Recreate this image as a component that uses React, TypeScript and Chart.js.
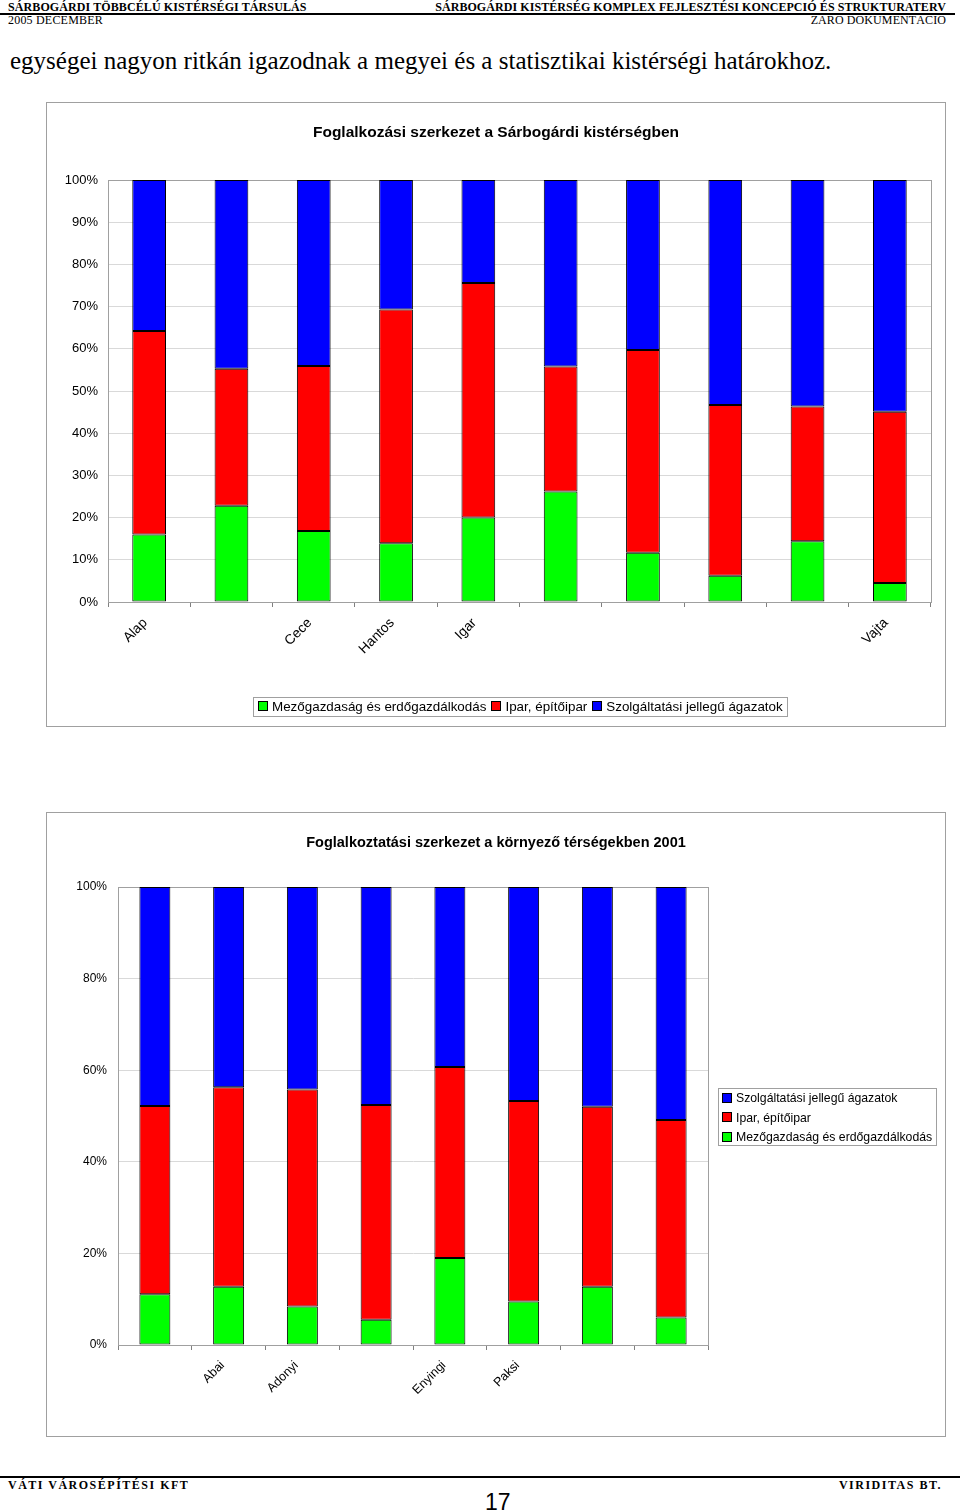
import React, { useEffect, useRef } from "react";
import { Chart, registerables } from "chart.js";

Chart.register(...registerables);

// ---------- Data ----------
const seriesNames = [
  "Mezőgazdaság és erdőgazdálkodás",
  "Ipar, építőipar",
  "Szolgáltatási jellegű ágazatok",
];
const seriesColors = ["#00FF00", "#FF0000", "#0000FF"];

const chart1Title = "Foglalkozási szerkezet a Sárbogárdi kistérségben";
const settlements = ["Alap", "Alsószentiván", "Cece", "Hantos", "Igar", "Mezőszilas", "Nagylók", "Sárbogárd", "Sáregres", "Vajta"];
const settlementTickLabels = ["Alap", "", "Cece", "Hantos", "Igar", "", "", "", "", "Vajta"];
const agri1 = [16.0, 22.8, 16.8, 13.9, 20.0, 26.2, 11.7, 6.2, 14.4, 4.5];
const ind1 = [48.2, 32.5, 39.1, 55.4, 55.6, 29.6, 48.0, 40.5, 31.9, 40.6];
const serv1 = [35.8, 44.7, 44.1, 30.7, 24.4, 44.2, 40.3, 53.3, 53.7, 54.9];
const yTicks1Step = 10;

const chart2Title = "Foglalkoztatási szerkezet a környező térségekben 2001";
const regions = ["Sárbogárdi", "Abai", "Adonyi", "Dunaújvárosi", "Enyingi", "Paksi", "Tamási", "Székesfehérvári"];
const regionTickLabels = ["", "Abai", "Adonyi", "", "Enyingi", "Paksi", "", ""];
const agri2 = [11.1, 12.7, 8.4, 5.5, 19.0, 9.5, 12.7, 6.0];
const ind2 = [41.1, 43.6, 47.4, 46.9, 41.7, 43.8, 39.3, 43.1];
const serv2 = [47.8, 43.7, 44.2, 47.6, 39.3, 46.7, 48.0, 50.9];
const yTicks2Step = 20;

const SANS = 'Arial, "Liberation Sans", sans-serif';
const SERIF = '"Times New Roman", "Liberation Serif", serif';

const framePlugin = {
  id: "frame",
  beforeDatasetsDraw(chart: any) {
    const { ctx, chartArea: a } = chart;
    ctx.save();
    ctx.strokeStyle = "#a0a0a0";
    ctx.lineWidth = 1;
    ctx.strokeRect(Math.round(a.left) + 0.5, Math.round(a.top) + 0.5, Math.round(a.right - a.left), Math.round(a.bottom - a.top));
    ctx.restore();
  },
};

type StackProps = {
  title: string;
  titleSize: number;
  titlePadTop: number;
  titlePadBottom: number;
  labels: string[];
  tickLabels: string[];
  agri: number[];
  ind: number[];
  serv: number[];
  step: number;
  fontSize: number;
  xFontSize: number;
  xLabelOffset: number;
  yWidth: number;
  yPad: number;
  xHeight: number;
  xPad: number;
  padRight: number;
  barPct: number;
};

function StackChart(p: StackProps) {
  const ref = useRef<HTMLCanvasElement | null>(null);
  useEffect(() => {
    if (!ref.current) return;
    const values = [p.agri, p.ind, p.serv];
    const chart = new Chart(ref.current, {
      type: "bar",
      data: {
        labels: p.labels,
        datasets: values.map((v, i) => ({
          label: seriesNames[i],
          data: v,
          backgroundColor: seriesColors[i],
          borderColor: "#000000",
          borderWidth: 1,
          borderSkipped: false,
          barPercentage: p.barPct,
          categoryPercentage: 1,
          yAxisID: "y",
        })),
      },
      options: {
        animation: false,
        responsive: false,
        devicePixelRatio: 1,
        layout: { padding: 0 },
        plugins: {
          legend: { display: false },
          tooltip: { enabled: false },
          title: {
            display: true,
            text: p.title,
            color: "#000000",
            font: { family: SANS, size: p.titleSize, weight: "bold" },
            padding: { top: p.titlePadTop, bottom: p.titlePadBottom },
          },
        },
        scales: {
          x: {
            stacked: true,
            offset: true,
            grid: {
              display: true,
              drawOnChartArea: false,
              drawTicks: true,
              tickLength: 5,
              color: "#808080",
              offset: true,
            },
            border: { display: true, color: "#808080" },
            ticks: {
              autoSkip: false,
              maxRotation: 45,
              minRotation: 45,
              padding: p.xPad,
              labelOffset: p.xLabelOffset,
              color: "#000000",
              font: { family: SANS, size: p.xFontSize },
              callback: (_v: any, i: number) => p.tickLabels[i],
            },
            afterFit: (s: any) => {
              s.height = p.xHeight;
            },
          },
          y: {
            stacked: true,
            min: 0,
            max: 100,
            ticks: {
              stepSize: p.step,
              padding: p.yPad,
              color: "#000000",
              font: { family: SANS, size: p.fontSize },
              callback: (v: any) => v + "%",
            },
            grid: { color: "#d9d9d9", drawTicks: false },
            border: { display: true, color: "#808080" },
            afterFit: (s: any) => {
              s.width = p.yWidth;
            },
          },
          // empty right margin (keeps the title centred on the whole chart box)
          yr: {
            position: "right",
            display: true,
            min: 0,
            max: 100,
            grid: { display: false, drawTicks: false },
            border: { display: false },
            ticks: { display: false },
            afterFit: (s: any) => {
              s.width = p.padRight;
            },
          },
        },
      },
      plugins: [framePlugin],
    } as any);
    return () => chart.destroy();
  }, []);
  return <canvas ref={ref} width={898} height={623} style={{ position: "absolute", left: 0, top: 0 }} />;
}

function Swatch({ color }: { color: string }) {
  return (
    <span
      style={{
        display: "inline-block",
        width: 8,
        height: 8,
        border: "1px solid #000",
        background: color,
        marginRight: 4,
        verticalAlign: "middle",
        position: "relative",
        top: -1,
      }}
    />
  );
}

const abs = (o: React.CSSProperties): React.CSSProperties => ({ position: "absolute", whiteSpace: "nowrap", ...o });

export default function App() {
  return (
    <div style={{ position: "absolute", left: 0, top: 0, width: 960, height: 1512, background: "#fff", overflow: "hidden", color: "#000" }}>
      {/* Header */}
      <div style={abs({ left: 8, top: 1, fontFamily: SERIF, fontWeight: "bold", fontSize: 12, lineHeight: "12px", letterSpacing: 0.1 })}>
        SÁRBOGÁRDI TÖBBCÉLÚ KISTÉRSÉGI TÁRSULÁS
      </div>
      <div style={abs({ right: 14, top: 1, fontFamily: SERIF, fontWeight: "bold", fontSize: 12, lineHeight: "12px", letterSpacing: 0.07 })}>
        SÁRBOGÁRDI KISTÉRSÉG KOMPLEX FEJLESZTÉSI KONCEPCIÓ ÉS STRUKTURATERV
      </div>
      <div style={abs({ left: 0, top: 13, width: 955, height: 2, background: "#000" })} />
      <div style={abs({ left: 8, top: 14, fontFamily: SERIF, fontSize: 12, lineHeight: "12px", letterSpacing: 0.2 })}>2005 DECEMBER</div>
      <div style={abs({ right: 14, top: 14, fontFamily: SERIF, fontSize: 12, lineHeight: "12px", letterSpacing: 0.1 })}>ZÁRÓ DOKUMENTÁCIÓ</div>

      {/* Body text */}
      <div style={abs({ left: 10, top: 48, fontFamily: SERIF, fontSize: 25, lineHeight: "25px" })}>
        egységei nagyon ritkán igazodnak a megyei és a statisztikai kistérségi határokhoz.
      </div>

      {/* Chart 1 */}
      <div style={abs({ left: 46, top: 102, width: 900, height: 625, border: "1px solid #a0a0a0", boxSizing: "border-box" })}>
        <StackChart
          title={chart1Title}
          titleSize={15.5}
          titlePadTop={20.7}
          titlePadBottom={37.7}
          labels={settlements}
          tickLabels={settlementTickLabels}
          agri={agri1}
          ind={ind1}
          serv={serv1}
          step={yTicks1Step}
          fontSize={13}
          xFontSize={13.7}
          xLabelOffset={-4}
          yWidth={61}
          yPad={10}
          xHeight={124}
          xPad={8}
          padRight={14}
          barPct={0.41}
        />
        <div
          style={abs({
            left: 206,
            top: 594,
            height: 18,
            border: "1px solid #a0a0a0",
            fontFamily: SANS,
            fontSize: 13.4,
            lineHeight: "18px",
            padding: "0 4px 0 4px",
          })}
        >
          {[0, 1, 2].map((i) => (
            <span key={i} style={{ marginRight: i < 2 ? 5 : 0 }}>
              <Swatch color={seriesColors[i]} />
              {seriesNames[i]}
            </span>
          ))}
        </div>
      </div>

      {/* Chart 2 */}
      <div style={abs({ left: 46, top: 812, width: 900, height: 625, border: "1px solid #a0a0a0", boxSizing: "border-box" })}>
        <StackChart
          title={chart2Title}
          titleSize={14.5}
          titlePadTop={21.3}
          titlePadBottom={35.3}
          labels={regions}
          tickLabels={regionTickLabels}
          agri={agri2}
          ind={ind2}
          serv={serv2}
          step={yTicks2Step}
          fontSize={12}
          xFontSize={12.5}
          xLabelOffset={-6}
          yWidth={71}
          yPad={11}
          xHeight={91}
          xPad={8}
          padRight={237}
          barPct={0.42}
        />
        <div
          style={abs({
            left: 671,
            top: 275,
            width: 219,
            height: 58,
            border: "1px solid #a0a0a0",
            fontFamily: SANS,
            fontSize: 12.25,
            lineHeight: "19.5px",
            padding: "0 0 0 3px",
            boxSizing: "border-box",
          })}
        >
          {[2, 1, 0].map((i) => (
            <div key={i}>
              <Swatch color={seriesColors[i]} />
              {seriesNames[i]}
            </div>
          ))}
        </div>
      </div>

      {/* Footer */}
      <div style={abs({ left: 0, top: 1476, width: 960, height: 2, background: "#000" })} />
      <div style={abs({ left: 8, top: 1479, fontFamily: SERIF, fontWeight: "bold", fontSize: 12, lineHeight: "12px", letterSpacing: 1.5 })}>
        VÁTI VÁROSÉPÍTÉSI KFT
      </div>
      <div style={abs({ right: 18, top: 1479, fontFamily: SERIF, fontWeight: "bold", fontSize: 12, lineHeight: "12px", letterSpacing: 1.5 })}>
        VIRIDITAS BT.
      </div>
      <div style={abs({ left: 485, top: 1491, fontFamily: '"Liberation Sans Narrow", "Arial Narrow", Arial, sans-serif', fontSize: 23, lineHeight: "23px" })}>
        17
      </div>
    </div>
  );
}
